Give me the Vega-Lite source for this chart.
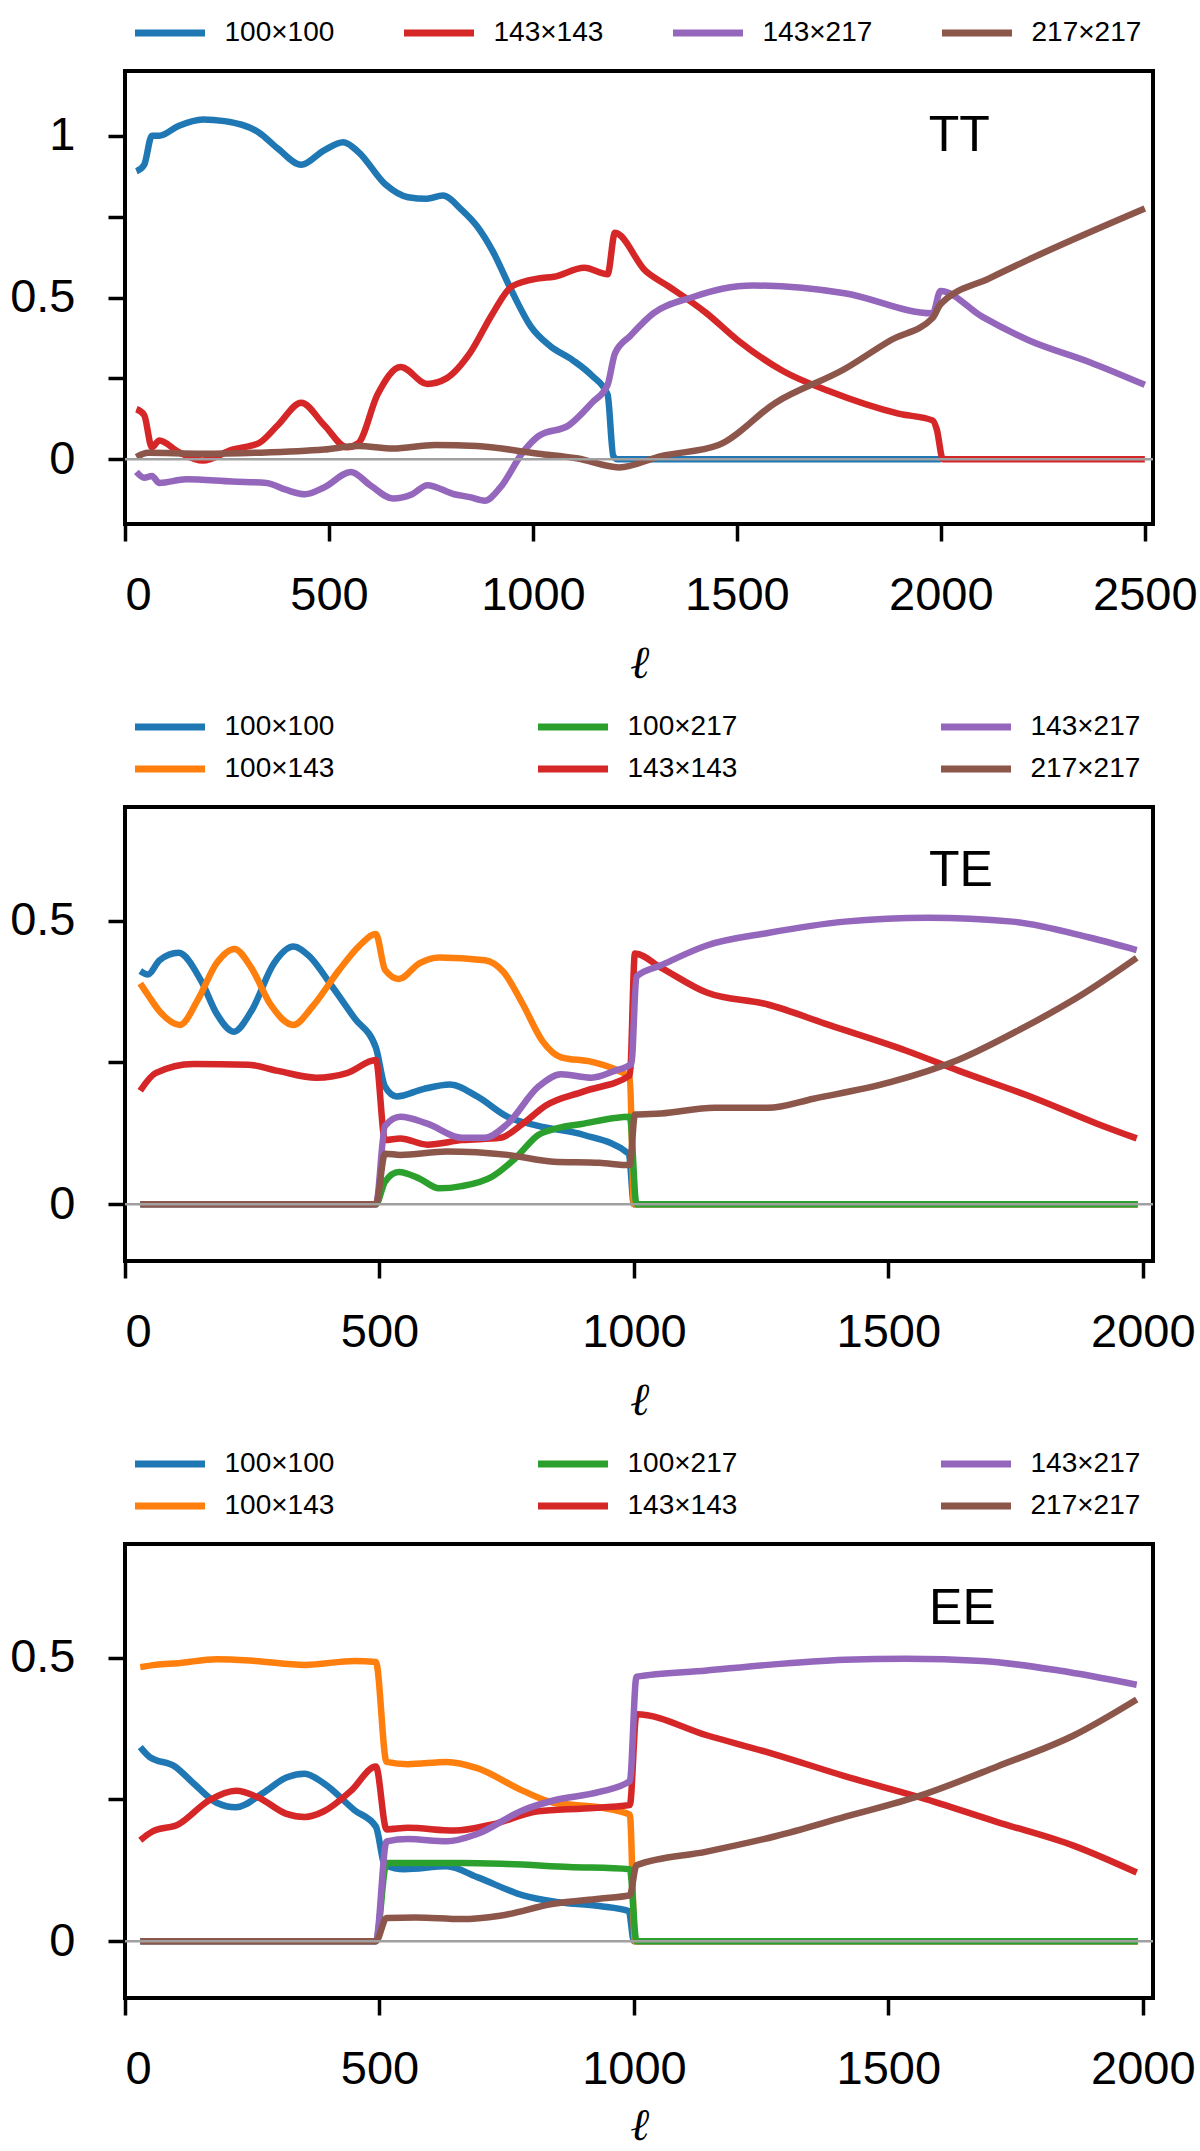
{
  "$schema": "https://vega.github.io/schema/vega-lite/v6.json",
  "padding": {"left": 7, "top": 7, "right": 0, "bottom": 0},
  "background": "white",
  "datasets": {
    "TT": [
      {"s":"100×100","l":28,"v":0.89},{"s":"100×100","l":47,"v":0.91},{"s":"100×100","l":66,"v":1.0},{"s":"100×100","l":84,"v":1.0},{"s":"100×100","l":131,"v":1.03},{"s":"100×100","l":191,"v":1.05},{"s":"100×100","l":244,"v":1.045},{"s":"100×100","l":328,"v":1.01},{"s":"100×100","l":375,"v":0.96},{"s":"100×100","l":432,"v":0.91},{"s":"100×100","l":488,"v":0.955},{"s":"100×100","l":535,"v":0.98},{"s":"100×100","l":572,"v":0.95},{"s":"100×100","l":638,"v":0.85},{"s":"100×100","l":694,"v":0.81},{"s":"100×100","l":740,"v":0.805},{"s":"100×100","l":779,"v":0.815},{"s":"100×100","l":826,"v":0.77},{"s":"100×100","l":863,"v":0.72},{"s":"100×100","l":901,"v":0.644},{"s":"100×100","l":948,"v":0.52},{"s":"100×100","l":995,"v":0.41},{"s":"100×100","l":1042,"v":0.35},{"s":"100×100","l":1098,"v":0.306},{"s":"100×100","l":1145,"v":0.258},{"s":"100×100","l":1183,"v":0.2},{"s":"100×100","l":1197,"v":0.01},{"s":"100×100","l":1207,"v":0},{"s":"100×100","l":1600,"v":0},{"s":"100×100","l":2000,"v":0},
      {"s":"143×143","l":28,"v":0.155},{"s":"143×143","l":47,"v":0.137},{"s":"143×143","l":66,"v":0.037},{"s":"143×143","l":84,"v":0.058},{"s":"143×143","l":131,"v":0.023},{"s":"143×143","l":191,"v":-0.004},{"s":"143×143","l":263,"v":0.03},{"s":"143×143","l":328,"v":0.05},{"s":"143×143","l":375,"v":0.106},{"s":"143×143","l":432,"v":0.175},{"s":"143×143","l":488,"v":0.106},{"s":"143×143","l":544,"v":0.037},{"s":"143×143","l":572,"v":0.05},{"s":"143×143","l":619,"v":0.2},{"s":"143×143","l":676,"v":0.285},{"s":"143×143","l":741,"v":0.233},{"s":"143×143","l":788,"v":0.25},{"s":"143×143","l":845,"v":0.327},{"s":"143×143","l":901,"v":0.45},{"s":"143×143","l":948,"v":0.534},{"s":"143×143","l":1014,"v":0.559},{"s":"143×143","l":1051,"v":0.564},{"s":"143×143","l":1126,"v":0.592},{"s":"143×143","l":1183,"v":0.572},{"s":"143×143","l":1201,"v":0.7},{"s":"143×143","l":1276,"v":0.582},{"s":"143×143","l":1333,"v":0.534},{"s":"143×143","l":1426,"v":0.451},{"s":"143×143","l":1502,"v":0.368},{"s":"143×143","l":1614,"v":0.272},{"s":"143×143","l":1727,"v":0.21},{"s":"143×143","l":1896,"v":0.141},{"s":"143×143","l":1980,"v":0.12},{"s":"143×143","l":1990,"v":0.092},{"s":"143×143","l":2005,"v":0},{"s":"143×143","l":2250,"v":0},{"s":"143×143","l":2500,"v":0},
      {"s":"143×217","l":28,"v":-0.039},{"s":"143×217","l":47,"v":-0.057},{"s":"143×217","l":66,"v":-0.052},{"s":"143×217","l":84,"v":-0.073},{"s":"143×217","l":150,"v":-0.062},{"s":"143×217","l":263,"v":-0.069},{"s":"143×217","l":347,"v":-0.073},{"s":"143×217","l":394,"v":-0.094},{"s":"143×217","l":441,"v":-0.108},{"s":"143×217","l":488,"v":-0.087},{"s":"143×217","l":554,"v":-0.039},{"s":"143×217","l":601,"v":-0.08},{"s":"143×217","l":657,"v":-0.121},{"s":"143×217","l":704,"v":-0.108},{"s":"143×217","l":741,"v":-0.08},{"s":"143×217","l":807,"v":-0.108},{"s":"143×217","l":845,"v":-0.117},{"s":"143×217","l":882,"v":-0.128},{"s":"143×217","l":920,"v":-0.087},{"s":"143×217","l":976,"v":0.023},{"s":"143×217","l":1014,"v":0.072},{"s":"143×217","l":1089,"v":0.106},{"s":"143×217","l":1145,"v":0.175},{"s":"143×217","l":1183,"v":0.23},{"s":"143×217","l":1201,"v":0.327},{"s":"143×217","l":1239,"v":0.382},{"s":"143×217","l":1295,"v":0.451},{"s":"143×217","l":1389,"v":0.5},{"s":"143×217","l":1464,"v":0.527},{"s":"143×217","l":1539,"v":0.537},{"s":"143×217","l":1764,"v":0.513},{"s":"143×217","l":1980,"v":0.451},{"s":"143×217","l":1999,"v":0.52},{"s":"143×217","l":2102,"v":0.44},{"s":"143×217","l":2215,"v":0.368},{"s":"143×217","l":2365,"v":0.3},{"s":"143×217","l":2500,"v":0.23},
      {"s":"217×217","l":28,"v":0.007},{"s":"217×217","l":56,"v":0.02},{"s":"217×217","l":188,"v":0.017},{"s":"217×217","l":319,"v":0.02},{"s":"217×217","l":488,"v":0.03},{"s":"217×217","l":572,"v":0.041},{"s":"217×217","l":657,"v":0.033},{"s":"217×217","l":760,"v":0.044},{"s":"217×217","l":863,"v":0.041},{"s":"217×217","l":1014,"v":0.017},{"s":"217×217","l":1107,"v":0.003},{"s":"217×217","l":1211,"v":-0.025},{"s":"217×217","l":1314,"v":0.01},{"s":"217×217","l":1455,"v":0.044},{"s":"217×217","l":1595,"v":0.175},{"s":"217×217","l":1764,"v":0.279},{"s":"217×217","l":1877,"v":0.368},{"s":"217×217","l":1980,"v":0.437},{"s":"217×217","l":1999,"v":0.479},{"s":"217×217","l":2120,"v":0.56},{"s":"217×217","l":2215,"v":0.617},{"s":"217×217","l":2500,"v":0.775}
    ],
    "TE": [
      {"s":"100×100","l":30,"v":0.411},{"s":"100×100","l":45,"v":0.405},{"s":"100×100","l":68,"v":0.43},{"s":"100×100","l":105,"v":0.443},{"s":"100×100","l":150,"v":0.393},{"s":"100×100","l":180,"v":0.336},{"s":"100×100","l":214,"v":0.304},{"s":"100×100","l":248,"v":0.34},{"s":"100×100","l":293,"v":0.425},{"s":"100×100","l":331,"v":0.454},{"s":"100×100","l":361,"v":0.438},{"s":"100×100","l":406,"v":0.385},{"s":"100×100","l":451,"v":0.328},{"s":"100×100","l":493,"v":0.276},{"s":"100×100","l":511,"v":0.207},{"s":"100×100","l":534,"v":0.19},{"s":"100×100","l":586,"v":0.203},{"s":"100×100","l":639,"v":0.211},{"s":"100×100","l":692,"v":0.19},{"s":"100×100","l":752,"v":0.154},{"s":"100×100","l":812,"v":0.138},{"s":"100×100","l":902,"v":0.122},{"s":"100×100","l":990,"v":0.089},{"s":"100×100","l":1000,"v":0},{"s":"100×100","l":1500,"v":0},{"s":"100×100","l":1990,"v":0},
      {"s":"100×143","l":30,"v":0.389},{"s":"100×143","l":45,"v":0.369},{"s":"100×143","l":68,"v":0.34},{"s":"100×143","l":108,"v":0.316},{"s":"100×143","l":143,"v":0.36},{"s":"100×143","l":180,"v":0.425},{"s":"100×143","l":215,"v":0.45},{"s":"100×143","l":248,"v":0.417},{"s":"100×143","l":286,"v":0.352},{"s":"100×143","l":331,"v":0.316},{"s":"100×143","l":368,"v":0.348},{"s":"100×143","l":421,"v":0.413},{"s":"100×143","l":459,"v":0.454},{"s":"100×143","l":493,"v":0.476},{"s":"100×143","l":511,"v":0.413},{"s":"100×143","l":538,"v":0.397},{"s":"100×143","l":579,"v":0.425},{"s":"100×143","l":617,"v":0.435},{"s":"100×143","l":707,"v":0.43},{"s":"100×143","l":744,"v":0.409},{"s":"100×143","l":782,"v":0.352},{"s":"100×143","l":820,"v":0.288},{"s":"100×143","l":857,"v":0.259},{"s":"100×143","l":917,"v":0.251},{"s":"100×143","l":970,"v":0.235},{"s":"100×143","l":992,"v":0.223},{"s":"100×143","l":1000,"v":0},{"s":"100×143","l":1500,"v":0},{"s":"100×143","l":1990,"v":0},
      {"s":"100×217","l":30,"v":0},{"s":"100×217","l":250,"v":0},{"s":"100×217","l":493,"v":0},{"s":"100×217","l":511,"v":0.04},{"s":"100×217","l":538,"v":0.057},{"s":"100×217","l":579,"v":0.045},{"s":"100×217","l":617,"v":0.028},{"s":"100×217","l":662,"v":0.032},{"s":"100×217","l":722,"v":0.049},{"s":"100×217","l":767,"v":0.081},{"s":"100×217","l":812,"v":0.122},{"s":"100×217","l":850,"v":0.134},{"s":"100×217","l":902,"v":0.142},{"s":"100×217","l":962,"v":0.152},{"s":"100×217","l":992,"v":0.154},{"s":"100×217","l":1005,"v":0},{"s":"100×217","l":1500,"v":0},{"s":"100×217","l":1990,"v":0},
      {"s":"143×143","l":30,"v":0.2},{"s":"143×143","l":60,"v":0.231},{"s":"143×143","l":135,"v":0.247},{"s":"143×143","l":241,"v":0.246},{"s":"143×143","l":301,"v":0.235},{"s":"143×143","l":376,"v":0.223},{"s":"143×143","l":436,"v":0.231},{"s":"143×143","l":493,"v":0.254},{"s":"143×143","l":511,"v":0.113},{"s":"143×143","l":541,"v":0.116},{"s":"143×143","l":594,"v":0.105},{"s":"143×143","l":662,"v":0.113},{"s":"143×143","l":737,"v":0.117},{"s":"143×143","l":782,"v":0.142},{"s":"143×143","l":827,"v":0.174},{"s":"143×143","l":902,"v":0.199},{"s":"143×143","l":992,"v":0.227},{"s":"143×143","l":1002,"v":0.442},{"s":"143×143","l":1053,"v":0.417},{"s":"143×143","l":1143,"v":0.373},{"s":"143×143","l":1263,"v":0.352},{"s":"143×143","l":1383,"v":0.316},{"s":"143×143","l":1534,"v":0.271},{"s":"143×143","l":1639,"v":0.235},{"s":"143×143","l":1790,"v":0.186},{"s":"143×143","l":1910,"v":0.142},{"s":"143×143","l":1988,"v":0.116},
      {"s":"143×217","l":30,"v":0},{"s":"143×217","l":250,"v":0},{"s":"143×217","l":493,"v":0},{"s":"143×217","l":511,"v":0.138},{"s":"143×217","l":541,"v":0.154},{"s":"143×217","l":594,"v":0.142},{"s":"143×217","l":662,"v":0.117},{"s":"143×217","l":707,"v":0.117},{"s":"143×217","l":752,"v":0.142},{"s":"143×217","l":812,"v":0.207},{"s":"143×217","l":857,"v":0.229},{"s":"143×217","l":917,"v":0.223},{"s":"143×217","l":962,"v":0.235},{"s":"143×217","l":995,"v":0.247},{"s":"143×217","l":1005,"v":0.401},{"s":"143×217","l":1053,"v":0.421},{"s":"143×217","l":1143,"v":0.456},{"s":"143×217","l":1263,"v":0.478},{"s":"143×217","l":1414,"v":0.498},{"s":"143×217","l":1579,"v":0.505},{"s":"143×217","l":1744,"v":0.498},{"s":"143×217","l":1895,"v":0.47},{"s":"143×217","l":1988,"v":0.448},
      {"s":"217×217","l":30,"v":0},{"s":"217×217","l":250,"v":0},{"s":"217×217","l":493,"v":0},{"s":"217×217","l":511,"v":0.089},{"s":"217×217","l":541,"v":0.087},{"s":"217×217","l":632,"v":0.093},{"s":"217×217","l":752,"v":0.087},{"s":"217×217","l":842,"v":0.075},{"s":"217×217","l":932,"v":0.073},{"s":"217×217","l":992,"v":0.069},{"s":"217×217","l":1002,"v":0.158},{"s":"217×217","l":1053,"v":0.16},{"s":"217×217","l":1158,"v":0.17},{"s":"217×217","l":1263,"v":0.17},{"s":"217×217","l":1353,"v":0.186},{"s":"217×217","l":1504,"v":0.215},{"s":"217×217","l":1639,"v":0.255},{"s":"217×217","l":1759,"v":0.308},{"s":"217×217","l":1880,"v":0.369},{"s":"217×217","l":1988,"v":0.434}
    ],
    "EE": [
      {"s":"100×100","l":30,"v":0.342},{"s":"100×100","l":48,"v":0.325},{"s":"100×100","l":98,"v":0.308},{"s":"100×100","l":135,"v":0.278},{"s":"100×100","l":180,"v":0.244},{"s":"100×100","l":218,"v":0.236},{"s":"100×100","l":271,"v":0.261},{"s":"100×100","l":316,"v":0.288},{"s":"100×100","l":353,"v":0.295},{"s":"100×100","l":391,"v":0.278},{"s":"100×100","l":451,"v":0.231},{"s":"100×100","l":493,"v":0.202},{"s":"100×100","l":511,"v":0.134},{"s":"100×100","l":549,"v":0.127},{"s":"100×100","l":632,"v":0.132},{"s":"100×100","l":692,"v":0.113},{"s":"100×100","l":782,"v":0.081},{"s":"100×100","l":842,"v":0.07},{"s":"100×100","l":932,"v":0.062},{"s":"100×100","l":990,"v":0.053},{"s":"100×100","l":1000,"v":0},{"s":"100×100","l":1500,"v":0},{"s":"100×100","l":1990,"v":0},
      {"s":"100×143","l":30,"v":0.483},{"s":"100×143","l":60,"v":0.487},{"s":"100×143","l":105,"v":0.49},{"s":"100×143","l":180,"v":0.497},{"s":"100×143","l":256,"v":0.494},{"s":"100×143","l":353,"v":0.487},{"s":"100×143","l":451,"v":0.494},{"s":"100×143","l":493,"v":0.492},{"s":"100×143","l":514,"v":0.316},{"s":"100×143","l":556,"v":0.312},{"s":"100×143","l":632,"v":0.316},{"s":"100×143","l":692,"v":0.305},{"s":"100×143","l":782,"v":0.265},{"s":"100×143","l":842,"v":0.244},{"s":"100×143","l":932,"v":0.236},{"s":"100×143","l":992,"v":0.223},{"s":"100×143","l":1002,"v":0},{"s":"100×143","l":1500,"v":0},{"s":"100×143","l":1990,"v":0},
      {"s":"100×217","l":30,"v":0},{"s":"100×217","l":250,"v":0},{"s":"100×217","l":493,"v":0},{"s":"100×217","l":514,"v":0.138},{"s":"100×217","l":662,"v":0.138},{"s":"100×217","l":752,"v":0.136},{"s":"100×217","l":872,"v":0.131},{"s":"100×217","l":992,"v":0.127},{"s":"100×217","l":1005,"v":0},{"s":"100×217","l":1500,"v":0},{"s":"100×217","l":1990,"v":0},
      {"s":"143×143","l":30,"v":0.178},{"s":"143×143","l":53,"v":0.193},{"s":"143×143","l":105,"v":0.206},{"s":"143×143","l":165,"v":0.248},{"s":"143×143","l":218,"v":0.265},{"s":"143×143","l":263,"v":0.253},{"s":"143×143","l":316,"v":0.225},{"s":"143×143","l":353,"v":0.219},{"s":"143×143","l":391,"v":0.229},{"s":"143×143","l":444,"v":0.265},{"s":"143×143","l":493,"v":0.308},{"s":"143×143","l":514,"v":0.197},{"s":"143×143","l":556,"v":0.2},{"s":"143×143","l":647,"v":0.195},{"s":"143×143","l":722,"v":0.206},{"s":"143×143","l":812,"v":0.229},{"s":"143×143","l":902,"v":0.234},{"s":"143×143","l":992,"v":0.24},{"s":"143×143","l":1005,"v":0.4},{"s":"143×143","l":1143,"v":0.363},{"s":"143×143","l":1278,"v":0.329},{"s":"143×143","l":1414,"v":0.291},{"s":"143×143","l":1564,"v":0.253},{"s":"143×143","l":1714,"v":0.21},{"s":"143×143","l":1865,"v":0.168},{"s":"143×143","l":1988,"v":0.121},
      {"s":"143×217","l":30,"v":0},{"s":"143×217","l":250,"v":0},{"s":"143×217","l":493,"v":0},{"s":"143×217","l":514,"v":0.176},{"s":"143×217","l":556,"v":0.18},{"s":"143×217","l":632,"v":0.176},{"s":"143×217","l":692,"v":0.189},{"s":"143×217","l":782,"v":0.231},{"s":"143×217","l":842,"v":0.248},{"s":"143×217","l":932,"v":0.263},{"s":"143×217","l":992,"v":0.282},{"s":"143×217","l":1005,"v":0.466},{"s":"143×217","l":1143,"v":0.477},{"s":"143×217","l":1263,"v":0.487},{"s":"143×217","l":1414,"v":0.496},{"s":"143×217","l":1534,"v":0.498},{"s":"143×217","l":1684,"v":0.494},{"s":"143×217","l":1835,"v":0.477},{"s":"143×217","l":1988,"v":0.452},
      {"s":"217×217","l":30,"v":0},{"s":"217×217","l":250,"v":0},{"s":"217×217","l":493,"v":0},{"s":"217×217","l":514,"v":0.041},{"s":"217×217","l":571,"v":0.042},{"s":"217×217","l":662,"v":0.039},{"s":"217×217","l":737,"v":0.045},{"s":"217×217","l":842,"v":0.066},{"s":"217×217","l":932,"v":0.075},{"s":"217×217","l":992,"v":0.081},{"s":"217×217","l":1005,"v":0.134},{"s":"217×217","l":1143,"v":0.158},{"s":"217×217","l":1278,"v":0.185},{"s":"217×217","l":1414,"v":0.219},{"s":"217×217","l":1564,"v":0.257},{"s":"217×217","l":1714,"v":0.308},{"s":"217×217","l":1865,"v":0.363},{"s":"217×217","l":1988,"v":0.426}
    ]
  },
  "spacing": 13,
  "vconcat": [
    {
      "width": 1028, "height": 453,
      "layer": [
        {
          "data": {"name": "TT"},
          "mark": {"type": "line", "strokeWidth": 6.5, "interpolate": "monotone"},
          "encoding": {
            "x": {"field": "l", "type": "quantitative", "title": "ℓ", "scale": {"domain": [0, 2520], "nice": false, "zero": false}, "axis": {"values": [0, 500, 1000, 1500, 2000, 2500], "format": "d"}},
            "y": {"field": "v", "type": "quantitative", "title": null, "scale": {"domain": [-0.2, 1.2], "nice": false}, "axis": {"values": [0, 0.25, 0.5, 0.75, 1], "labelExpr": "datum.value == 0 ? '0' : datum.value == 0.5 ? '0.5' : datum.value == 1 ? '1' : ''"}},
            "color": {"field": "s", "type": "nominal", "scale": {"domain": ["100×100", "143×143", "143×217", "217×217"], "range": ["#1f77b4", "#d62728", "#9467bd", "#8c564b"]}, "legend": {"columns": 4, "columnPadding": 69}}
          }
        },
        {
          "data": {"values": [{"v": 0}]},
          "mark": {"type": "rule", "color": "#a0a0a0", "strokeWidth": 2.5},
          "encoding": {"y": {"field": "v", "type": "quantitative", "title": null}}
        },
        {
          "data": {"values": [{"l": 1970, "v": 1.0, "t": "TT"}]},
          "mark": {"type": "text", "align": "left", "baseline": "middle", "fontSize": 50, "font": "Liberation Sans", "color": "black"},
          "encoding": {"x": {"field": "l", "type": "quantitative", "title": "ℓ"}, "y": {"field": "v", "type": "quantitative", "title": null}, "text": {"field": "t"}}
        }
      ]
    },
    {
      "width": 1028, "height": 454,
      "layer": [
        {
          "data": {"name": "TE"},
          "mark": {"type": "line", "strokeWidth": 6.5, "interpolate": "monotone"},
          "encoding": {
            "x": {"field": "l", "type": "quantitative", "title": "ℓ", "scale": {"domain": [0, 2020], "nice": false, "zero": false}, "axis": {"values": [0, 500, 1000, 1500, 2000], "format": "d"}},
            "y": {"field": "v", "type": "quantitative", "title": null, "scale": {"domain": [-0.1, 0.7], "nice": false}, "axis": {"values": [0, 0.25, 0.5], "labelExpr": "datum.value == 0 ? '0' : datum.value == 0.5 ? '0.5' : ''"}},
            "color": {"field": "s", "type": "nominal", "scale": {"domain": ["100×100", "100×217", "143×217", "100×143", "143×143", "217×217"], "range": ["#1f77b4", "#2ca02c", "#9467bd", "#ff7f0e", "#d62728", "#8c564b"]}, "legend": {"columns": 3, "columnPadding": 203}}
          }
        },
        {
          "data": {"values": [{"v": 0}]},
          "mark": {"type": "rule", "color": "#a0a0a0", "strokeWidth": 2.5},
          "encoding": {"y": {"field": "v", "type": "quantitative", "title": null}}
        },
        {
          "data": {"values": [{"l": 1580, "v": 0.588, "t": "TE"}]},
          "mark": {"type": "text", "align": "left", "baseline": "middle", "fontSize": 50, "font": "Liberation Sans", "color": "black"},
          "encoding": {"x": {"field": "l", "type": "quantitative", "title": "ℓ"}, "y": {"field": "v", "type": "quantitative", "title": null}, "text": {"field": "t"}}
        }
      ]
    },
    {
      "width": 1028, "height": 454,
      "layer": [
        {
          "data": {"name": "EE"},
          "mark": {"type": "line", "strokeWidth": 6.5, "interpolate": "monotone"},
          "encoding": {
            "x": {"field": "l", "type": "quantitative", "title": "ℓ", "scale": {"domain": [0, 2020], "nice": false, "zero": false}, "axis": {"values": [0, 500, 1000, 1500, 2000], "format": "d", "titlePadding": 11, "titleFontSize": 45}},
            "y": {"field": "v", "type": "quantitative", "title": null, "scale": {"domain": [-0.1, 0.7], "nice": false}, "axis": {"values": [0, 0.25, 0.5], "labelExpr": "datum.value == 0 ? '0' : datum.value == 0.5 ? '0.5' : ''"}},
            "color": {"field": "s", "type": "nominal", "scale": {"domain": ["100×100", "100×217", "143×217", "100×143", "143×143", "217×217"], "range": ["#1f77b4", "#2ca02c", "#9467bd", "#ff7f0e", "#d62728", "#8c564b"]}, "legend": {"columns": 3, "columnPadding": 203}}
          }
        },
        {
          "data": {"values": [{"v": 0}]},
          "mark": {"type": "rule", "color": "#a0a0a0", "strokeWidth": 2.5},
          "encoding": {"y": {"field": "v", "type": "quantitative", "title": null}}
        },
        {
          "data": {"values": [{"l": 1580, "v": 0.586, "t": "EE"}]},
          "mark": {"type": "text", "align": "left", "baseline": "middle", "fontSize": 50, "font": "Liberation Sans", "color": "black"},
          "encoding": {"x": {"field": "l", "type": "quantitative", "title": "ℓ"}, "y": {"field": "v", "type": "quantitative", "title": null}, "text": {"field": "t"}}
        }
      ]
    }
  ],
  "resolve": {"scale": {"x": "independent", "y": "independent", "color": "independent"}, "legend": {"color": "independent"}, "axis": {"x": "independent", "y": "independent"}},
  "config": {
    "view": {"stroke": "black", "strokeWidth": 4},
    "axis": {"grid": false, "domain": false, "ticks": true, "tickColor": "black", "tickWidth": 3.5, "tickSize": 17, "labelFont": "Liberation Sans", "labelFontSize": 47, "labelColor": "black", "titleFont": "DejaVu Serif", "titleFontStyle": "italic", "titleFontWeight": "normal", "titleFontSize": 46, "titleColor": "black"},
    "axisX": {"labelPadding": 31, "titlePadding": 23},
    "axisY": {"labelPadding": 33},
    "legend": {"orient": "top", "title": null, "symbolType": "stroke", "symbolSize": 4900, "symbolStrokeWidth": 7, "symbolOffset": -3.5, "clipHeight": 28, "labelFont": "Liberation Sans", "labelFontSize": 28, "labelColor": "black", "labelOffset": 16, "rowPadding": 14, "padding": 10, "offset": 14, "labelLimit": 300}
  }
}
